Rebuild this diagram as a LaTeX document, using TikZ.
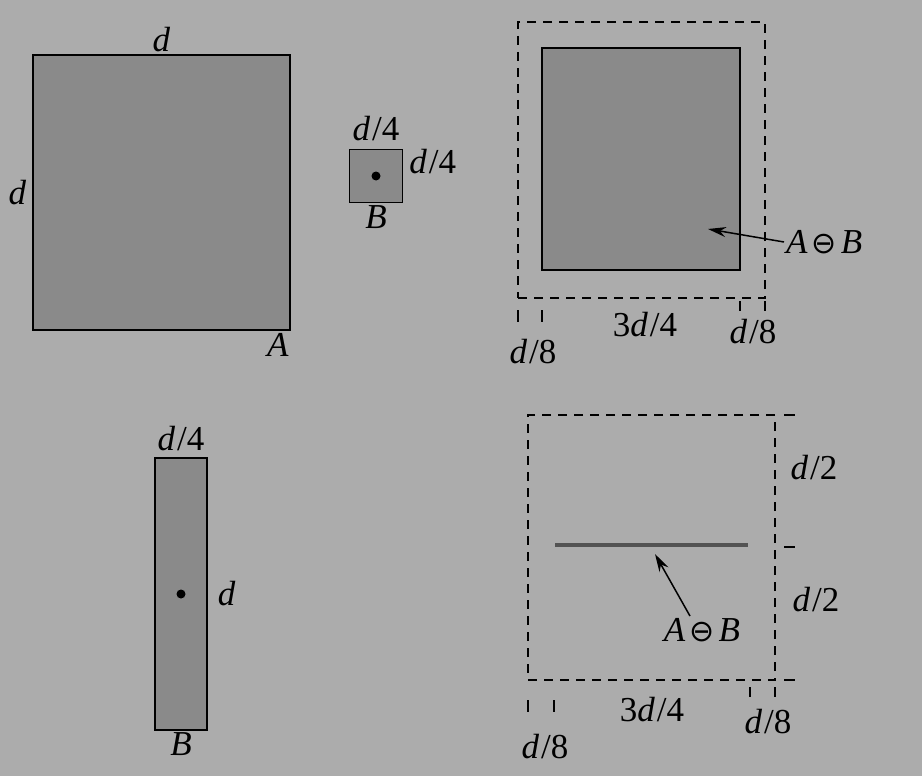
\documentclass[tikz,border=0pt]{standalone}
\usepackage{fontspec}
\setmainfont{Liberation Serif}
\newfontfamily\symfont{DejaVu Sans}
\usetikzlibrary{positioning, arrows.meta}
\definecolor{paper}{RGB}{172,172,172}
\definecolor{shade}{RGB}{138,138,138}
\newcommand{\dover}[1]{\textit{d}\kern2pt/#1}
\newcommand{\erode}{\textit{A}\kern4pt{\symfont\fontsize{30}{32}\selectfont ⊖}\kern4pt\textit{B}}

\begin{document}
\begin{tikzpicture}[x=1pt, y=-1pt,
    lbl/.style={font=\fontsize{35}{38}\selectfont, inner sep=2pt},
    setbox/.style={draw, line width=1.4pt, fill=shade, inner sep=0pt},
    dashbox/.style={draw, line width=1.6pt, dash pattern=on 9pt off 7pt,
                    inner sep=0pt},
    tick/.style={line width=1.4pt},
    arr/.style={-{Stealth[length=18pt, width=10pt]}, line width=1.5pt},
    org/.style={circle, fill=black, inner sep=0pt, minimum size=9pt},
  ]
  \fill[paper] (0,0) rectangle (922,776);
  \useasboundingbox (0,0) rectangle (922,776);

  % ── set A ──
  \node[setbox, minimum width=257pt, minimum height=275pt] (A) at (161.5,192.5) {};
  \node[lbl, above=0pt of A] (Atop) {\textit{d}};
  \node[lbl, left=4pt of A] (Aleft) {\textit{d}};
  \node[lbl, below left=0pt and 0pt of A.south east] (Aname) {\textit{A}};

  % ── structuring element B (square) ──
  \node[setbox, minimum size=53pt] (Bsq) at (376,176) {};
  \node[org] (Bsqo) at (Bsq) {};
  \node[lbl, above=6pt of Bsq] (Bsqtop) {\dover{4}};
  \node[lbl, anchor=west] (Bsqright) at ([xshift=4pt, yshift=-13pt]Bsq.north east) {\dover{4}};
  \node[lbl, below=0pt of Bsq] (Bsqname) {\textit{B}};

  % ── erosion by the square ──
  \node[dashbox, minimum width=247pt, minimum height=276pt] (Aone) at (641.5,160) {};
  \node[setbox, minimum width=198pt, minimum height=222pt] (Eone) at (641,159) {};
  \foreach \x in {518,542}
    \draw[tick] (\x,310) -- (\x,322);
  \foreach \x in {740,765}
    \draw[tick] (\x,301) -- (\x,311);
  \node[lbl] (Eonel) at (533,352) {\dover{8}};
  \node[lbl] (Eonem) at (645,325) {3\dover{4}};
  \node[lbl] (Eoner) at (753,332) {\dover{8}};
  \node[lbl, anchor=west] (Eonename) at (784,242) {\erode};
  \coordinate (Eonehit) at (708,229);
  \draw[arr] (Eonename.west) -- (Eonehit);

  % ── structuring element B (bar) ──
  \node[setbox, minimum width=52pt, minimum height=272pt] (Bbar) at (181,594) {};
  \node[org] (Bbaro) at (Bbar) {};
  \node[lbl, above=4pt of Bbar] (Bbartop) {\dover{4}};
  \node[lbl, right=8pt of Bbar] (Bbarright) {\textit{d}};
  \node[lbl, below=0pt of Bbar] (Bbarname) {\textit{B}};

  % ── erosion by the bar ──
  \node[dashbox, minimum width=247pt, minimum height=265pt] (Atwo) at (651.5,547.5) {};
  \coordinate (Etwol) at (555,545);
  \coordinate (Etwor) at (748,545);
  \draw[line width=4pt, shade!60!black] (Etwol) -- (Etwor);
  \foreach \y in {415,547,680}
    \draw[tick] (784,\y) -- (795,\y);
  \node[lbl] (Etwoup) at (814,468) {\dover{2}};
  \node[lbl] (Etwodn) at (816,600) {\dover{2}};
  \foreach \x in {528,554}
    \draw[tick] (\x,700) -- (\x,712);
  \foreach \x in {750,775}
    \draw[tick] (\x,687) -- (\x,697);
  \node[lbl] (Etwol8) at (545,747) {\dover{8}};
  \node[lbl] (Etwom) at (652,710) {3\dover{4}};
  \node[lbl] (Etwor8) at (768,722) {\dover{8}};
  \node[lbl] (Etwoname) at (702,630) {\erode};
  \coordinate (Etwohit) at (655,554);
  \draw[arr] ([xshift=-12pt]Etwoname.north) -- (Etwohit);
\end{tikzpicture}
\end{document}
